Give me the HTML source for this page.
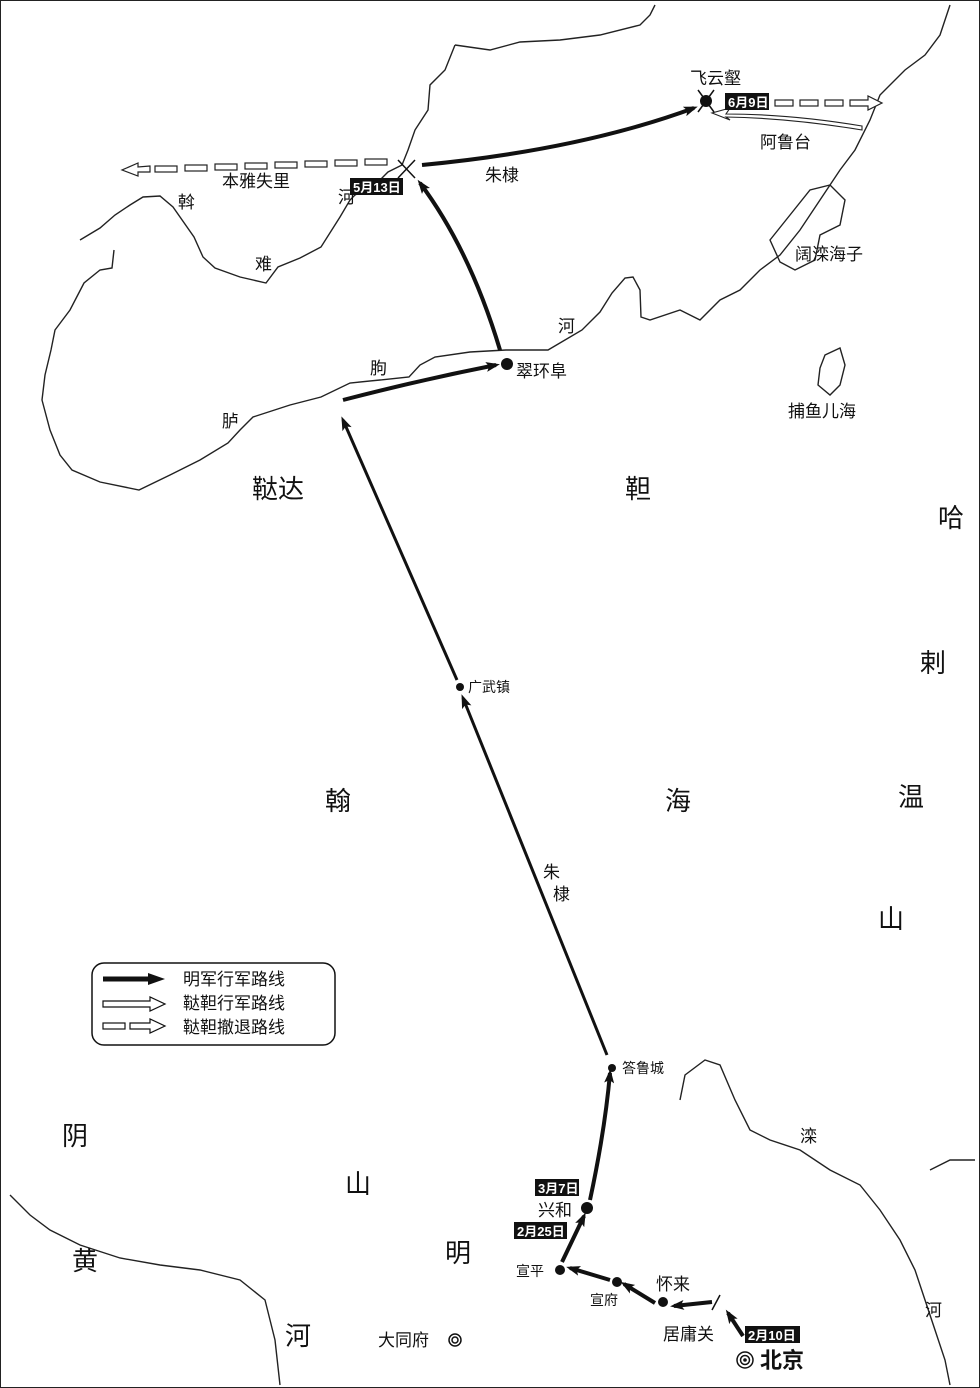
<!DOCTYPE html>
<html><head><meta charset="utf-8"><style>
html,body{margin:0;padding:0;background:#fff}
svg{display:block}
text{font-family:"Liberation Sans","Noto Sans CJK SC",sans-serif;fill:#111}
.big{font-size:26px}
.lbl{font-size:17px}
.sm{font-size:14px}
.tag{font-size:13px;fill:#fff;font-weight:bold}
</style></head><body>
<svg width="980" height="1388" viewBox="0 0 980 1388" xmlns="http://www.w3.org/2000/svg">
<defs>
<marker id="ah" markerWidth="14" markerHeight="10" refX="10" refY="5" orient="auto" markerUnits="userSpaceOnUse"><path d="M0,0 L14,5 L0,10 L3,5 Z" fill="#111"/></marker>
</defs>
<rect x="0.5" y="0.5" width="979" height="1387" fill="#fff" stroke="#222"/>
<g fill="none" stroke="#222" stroke-width="1.4">
<path d="M455,45 L445,70 430,85 428,110 415,130 408,150 402,165 L388,172 375,185 355,195 350,200 340,217 321,247 300,258 278,267 266,283 240,277 215,268 203,257 194,237 173,207 160,196 143,197 130,205 115,215 100,228 80,240"/>
<path d="M455,45 L490,50 520,42 560,40 600,35 640,25 650,15 655,5"/>
<path d="M114,250 L112,268 100,270 84,283 70,310 55,330 51,350 45,375 42,400 50,430 60,455 72,470 100,482 139,490 170,475 200,460 228,443 240,430 253,417 290,405 321,397 350,383 380,380 409,377 420,365 435,357 470,352 506,350 548,350 582,330 600,312 612,293 625,278 633,277 640,290 641,317 650,320 680,310 700,320 720,300 740,290 760,270 780,255 800,230 820,200 840,170 855,150 870,120 880,95 905,70 925,55 940,35 950,5"/>
<path d="M770,240 L790,215 810,190 830,185 845,200 840,225 820,235 815,260 795,270 780,262 Z"/>
<path d="M825,355 L840,348 845,365 840,385 830,395 818,385 820,368 Z"/>
<path d="M680,1100 L685,1075 705,1060 720,1065 735,1100 750,1130 770,1140 800,1150 830,1170 860,1185 880,1210 900,1240 915,1270 925,1300 935,1330 945,1360 950,1385"/>
<path d="M930,1170 L950,1160 975,1160"/>
<path d="M10,1195 L30,1215 50,1230 80,1245 120,1258 160,1265 200,1270 240,1280 265,1300 275,1340 280,1385"/>
</g>
<g fill="none" stroke="#111" marker-end="url(#ah)">
<path d="M743,1336 L728,1313" stroke-width="4"/>
<path d="M712,1302 L674,1306" stroke-width="4"/>
<path d="M655,1303 L624,1284" stroke-width="4"/>
<path d="M610,1280 L570,1268" stroke-width="4"/>
<path d="M562,1262 L584,1216" stroke-width="4"/>
<path d="M590,1200 Q605,1130 610,1073" stroke-width="4"/>
<path d="M607,1055 L463,698" stroke-width="3"/>
<path d="M457,680 L343,420" stroke-width="3"/>
<path d="M343,400 Q420,380 496,365" stroke-width="4"/>
<path d="M500,350 Q470,250 420,183" stroke-width="4"/>
<path d="M422,165 Q580,150 694,108" stroke-width="4"/>
</g>
<path d="M862,126 Q790,114 726,114 L730,108 L712,113 L730,120 L726,117 Q790,118 862,130 Z" fill="#fff" stroke="#222" stroke-width="1.1"/>
<g fill="#fff" stroke="#222" stroke-width="1.2">
<rect x="775" y="100" width="18" height="6"/><rect x="800" y="100" width="18" height="6"/><rect x="825" y="100" width="18" height="6"/>
<path d="M850,100 L868,100 L868,96 L882,103 L868,110 L868,106 L850,106 Z"/>
<rect x="365" y="159" width="22" height="6"/><rect x="335" y="160" width="22" height="6"/><rect x="305" y="161" width="22" height="6"/><rect x="275" y="162" width="22" height="6"/><rect x="245" y="163" width="22" height="6"/><rect x="215" y="164" width="22" height="6"/><rect x="185" y="165" width="22" height="6"/><rect x="155" y="166" width="22" height="6"/>
<path d="M150,166 L138,167 L138,163 L122,170 L138,176 L138,172 L150,172 Z"/>
</g>
<g fill="#111">
<circle cx="706" cy="101" r="6"/><circle cx="507" cy="364" r="6"/><circle cx="460" cy="687" r="4"/><circle cx="612" cy="1068" r="4"/><circle cx="587" cy="1208" r="6"/><circle cx="560" cy="1270" r="5"/><circle cx="617" cy="1282" r="5"/><circle cx="663" cy="1302" r="5"/>
</g>
<g fill="none" stroke="#111" stroke-width="1.5">
<circle cx="745" cy="1360" r="8"/><circle cx="745" cy="1360" r="4.5"/><circle cx="455" cy="1340" r="6"/><circle cx="455" cy="1340" r="3"/>
<path d="M398,160 L415,178 M415,160 L398,178 M698,90 L714,112 M714,90 L698,112 M712,1310 L720,1295"/>
</g>
<circle cx="745" cy="1360" r="1.8" fill="#111"/>
<g fill="#111"><rect x="350" y="178" width="53" height="17"/><rect x="725" y="93" width="44" height="17"/><rect x="535" y="1179" width="44" height="17"/><rect x="514" y="1222" width="53" height="17"/><rect x="745" y="1326" width="55" height="17"/></g>
<text class="tag" x="353" y="192">5月13日</text><text class="tag" x="728" y="107">6月9日</text><text class="tag" x="538" y="1193">3月7日</text><text class="tag" x="517" y="1236">2月25日</text><text class="tag" x="748" y="1340">2月10日</text>
<text class="lbl" x="690" y="84">飞云壑</text><text class="lbl" x="760" y="148">阿鲁台</text>
<text class="lbl" x="222" y="187">本雅失里</text><text class="lbl" x="485" y="181">朱棣</text>
<text class="lbl" x="178" y="208">斡</text><text class="lbl" x="255" y="270">难</text><text class="lbl" x="338" y="203">河</text>
<text class="lbl" x="795" y="260">阔滦海子</text><text class="lbl" x="788" y="417">捕鱼儿海</text>
<text class="lbl" x="516" y="377">翠环阜</text><text class="lbl" x="558" y="332">河</text><text class="lbl" x="370" y="374">朐</text><text class="lbl" x="222" y="427">胪</text>
<text class="big" x="252" y="498">鞑达</text><text class="big" x="625" y="498">靼</text>
<text class="big" x="938" y="527">哈</text><text class="big" x="920" y="672">剌</text><text class="big" x="898" y="806">温</text><text class="big" x="878" y="928">山</text>
<text class="sm" x="468" y="692">广武镇</text>
<text class="big" x="325" y="810">翰</text><text class="big" x="665" y="810">海</text>
<text class="lbl" x="543" y="878">朱</text><text class="lbl" x="553" y="900">棣</text>
<text class="sm" x="622" y="1073">答鲁城</text>
<text class="big" x="62" y="1145">阴</text><text class="big" x="345" y="1193">山</text><text class="big" x="445" y="1262">明</text>
<text class="big" x="72" y="1270">黄</text><text class="big" x="285" y="1345">河</text>
<text class="lbl" x="800" y="1142">滦</text><text class="lbl" x="925" y="1316">河</text>
<text class="lbl" x="538" y="1216">兴和</text><text class="sm" x="516" y="1276">宣平</text><text class="sm" x="590" y="1305">宣府</text><text class="lbl" x="656" y="1290">怀来</text><text class="lbl" x="663" y="1340">居庸关</text>
<text class="lbl" x="378" y="1346">大同府</text>
<text x="760" y="1368" style="font-size:22px;font-weight:bold">北京</text>
<rect x="92" y="963" width="243" height="82" rx="12" fill="#fff" stroke="#111" stroke-width="1.5"/>
<path d="M103,979 L150,979" stroke="#111" stroke-width="5"/>
<path d="M148,973 L165,979 L148,985 Z" fill="#111"/>
<path d="M103,1001 L150,1001 L150,997 L165,1004 L150,1011 L150,1007 L103,1007 Z" fill="#fff" stroke="#111" stroke-width="1.2"/>
<g fill="#fff" stroke="#111" stroke-width="1.2"><rect x="103" y="1023" width="22" height="6"/><path d="M130,1023 L150,1023 L150,1019 L165,1026 L150,1033 L150,1029 L130,1029 Z"/></g>
<text class="lbl" x="183" y="985">明军行军路线</text><text class="lbl" x="183" y="1009">鞑靼行军路线</text><text class="lbl" x="183" y="1033">鞑靼撤退路线</text>
</svg>
</body></html>
